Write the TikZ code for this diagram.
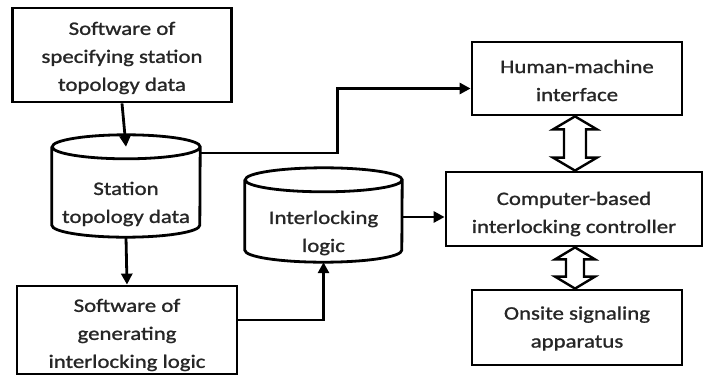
\documentclass[tikz,border=0pt]{standalone}
\usepackage{fontspec}
\setmainfont{Carlito}[FakeStretch=1.2, FakeBold=1.2]
\usetikzlibrary{arrows.meta,calc}

\tikzset{
  every node/.style={inner sep=0pt},
  label text/.style={font=\fontsize{19pt}{28pt}\selectfont, text=black!85, align=center},
  box/.style={draw, line width=2.8pt, minimum width=#1},
  store/.style={minimum width=#1},
  flow/.style={line width=2.8pt, -{Triangle[length=11pt,width=11pt]}},
  hollow/.style={draw, fill=white, line width=2.4pt, line join=miter}
}

% hollow double-headed arrow from #1 (top) to #2 (bottom);
% #3 shaft half-width, #4 head half-width, #5 head length
\newcommand\hollowarrow[5]{%
  \draw[hollow] (#1) -- ($(#1)+(#4,-#5)$) -- ($(#1)+(#3,-#5)$) --
    ($(#2)+(#3,#5)$) -- ($(#2)+(#4,#5)$) -- (#2) -- ($(#2)+(-#4,#5)$) --
    ($(#2)+(-#3,#5)$) -- ($(#1)+(-#3,-#5)$) -- ($(#1)+(-#4,-#5)$) -- cycle;}

% drum outline around a named store node; #2 ellipse x radius, #3 ellipse y radius
\newcommand\drum[3]{%
  \draw[line width=2.8pt] ([yshift=-#3]#1.north west) -- ([yshift=#3]#1.south west)
    arc[start angle=180, end angle=360, x radius=#2, y radius=#3]
    -- ([yshift=-#3]#1.north east)
    arc[start angle=0, end angle=360, x radius=#2, y radius=#3];}

\begin{document}
\begin{tikzpicture}[x=1pt,y=1pt]
\useasboundingbox (0,0) rectangle (704,376);

% left column
\node[box=219pt, minimum height=94pt] (spec) at (122,321) {};
\node[store=148pt, minimum height=102pt] (stn) at (126,190) {};
\node[box=220pt, minimum height=88pt] (gen) at (127,46) {};

% interlocking logic store
\node[store=157pt, minimum height=94pt] (logic) at (323.5,161) {};

% right column
\node[box=210pt, minimum height=73pt] (hmi) at (577,297.5) {};
\node[box=256pt, minimum height=74pt] (cbi) at (574,167) {};
\node[box=210pt, minimum height=75pt] (site) at (577,48.5) {};

% captions
\node[label text] (spec-t) at ([yshift=-3pt]spec.center)
  {Software of\\specifying station\\topology data};
\node[label text] (stn-t) at ([yshift=-18pt]stn.center)
  {Station\\topology data};
\node[label text] (gen-t) at ([yshift=-5pt]gen.center)
  {Software of\\generating\\interlocking logic};
\node[label text] (logic-t) at ([yshift=-18pt]logic.center)
  {Interlocking\\logic};
\node[label text] (hmi-t) at ([yshift=-2pt]hmi.center)
  {Human-machine\\interface};
\node[label text] (cbi-t) at ([yshift=-5pt]cbi.center)
  {Computer-based\\interlocking controller};
\node[label text] (site-t) at ([yshift=-1pt]site.center)
  {Onsite signaling\\apparatus};

\drum{stn}{74pt}{12pt}
\drum{logic}{78.5pt}{12pt}

% data flow
\draw[flow] (spec.south) -- ([yshift=-12pt]stn.north);
\draw[flow] (stn.south) -- (gen.north);
\draw[flow] ([yshift=10pt]gen.east) -| (logic.south);
\draw[flow] ([yshift=-2pt]logic.east) -- ([yshift=-2pt]logic.east -| cbi.west);
\draw[flow] ([yshift=33pt]stn.east) -- ++(137pt,0) |- ([yshift=-10pt]hmi.west);

% two-way links
\coordinate (a1) at ($(hmi.south)+(-2pt,0)$);
\coordinate (b1) at (a1 |- cbi.north);
\hollowarrow{a1}{b1}{11pt}{22pt}{13pt}
\coordinate (a2) at (cbi.south -| a1);
\coordinate (b2) at (a2 |- site.north);
\hollowarrow{a2}{b2}{9pt}{20pt}{12pt}
\end{tikzpicture}
\end{document}
